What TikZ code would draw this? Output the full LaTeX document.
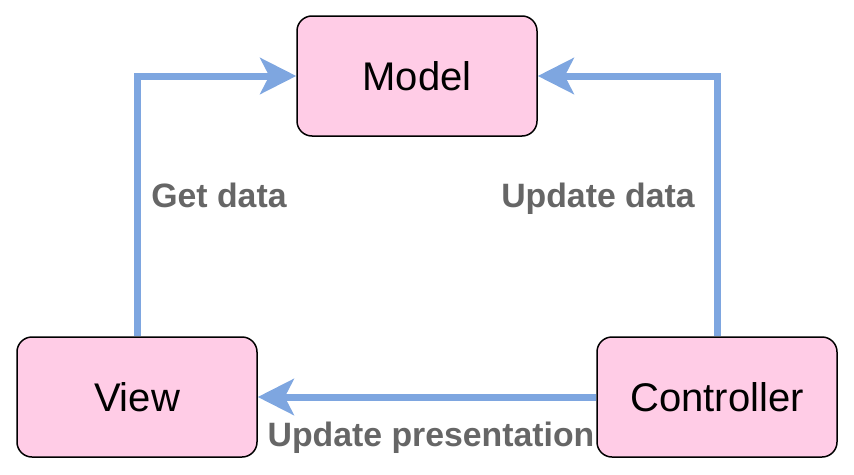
\documentclass[tikz,border=0pt]{standalone}
\usepackage{fontspec}
\setmainfont{Liberation Sans}
\usepackage{xcolor}
\usepackage{tikz}
\usetikzlibrary{arrows.meta}
\definecolor{boxpink}{HTML}{FFCCE6}
\definecolor{flowblue}{HTML}{7EA6E0}
\definecolor{labelgray}{HTML}{666666}

\begin{document}
\begin{tikzpicture}[x=1pt,y=-1pt]
  \tikzstyle{part} = [draw,fill=boxpink,line width=1.5pt,rounded corners=15pt,minimum width=240pt,minimum height=120pt,inner sep=0pt,font=\fontsize{40}{48}\selectfont]
  \tikzstyle{flow} = [draw=flowblue,line width=7pt,-{Stealth[length=36pt,width=36pt,inset=9pt]}]
  \tikzstyle{caption} = [text=labelgray,inner sep=0pt,anchor=base,font=\fontsize{33.8}{40}\selectfont\bfseries]
  %
  \useasboundingbox (0,0) rectangle (854,474);
  % Boxes.
  \node[part] (model) at (417,76) {Model};
  \node[part] (view) at (137,397) {View};
  \node[part] (controller) at (717,397) {Controller};
  % Connectors.
  \draw[flow] (view.north) |- (model.west);
  \draw[flow] (controller.north) |- (model.east);
  \draw[flow] (controller.west) -- (view.east);
  % Labels.
  \node[caption] (getdata) at (219,207) {Get data};
  \node[caption] (updatedata) at (598,207) {Update data};
  \node[caption] (updatepres) at (431,446) {Update presentation};
\end{tikzpicture}
\end{document}
